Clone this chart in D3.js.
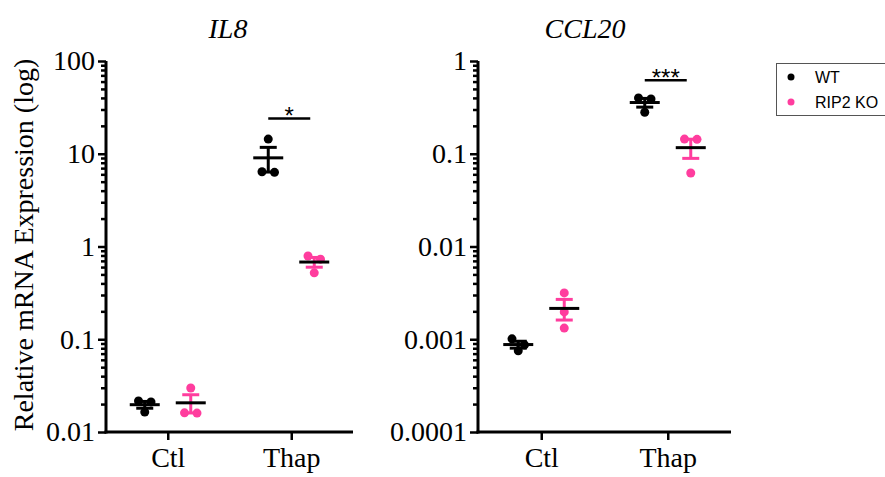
<!DOCTYPE html>
<html>
<head>
<meta charset="utf-8">
<script src="https://cdn.jsdelivr.net/npm/d3@7"></script>
<style>
  body { margin: 0; background: #fff; }
  text { font-family: "Liberation Serif", "Times New Roman", serif; }
</style>
</head>
<body>
<script>
// values
const genes = ["IL8", "CCL20"];
const conditions = ["Ctl", "Thap"];
const groups = ["WT", "RIP2 KO"];
const colors = ["#000000", "#ff3d9e"];

const il8WTCtl = [0.0164, 0.0216, 0.0211];
const il8KOCtl = [0.0298, 0.0160, 0.0161];
const il8WTThap = [14.4, 6.4, 6.3];
const il8KOThap = [0.79, 0.73, 0.52];

const ccl20WTCtl = [0.00101, 0.00075, 0.00087];
const ccl20KOCtl = [0.00316, 0.00197, 0.00132];
const ccl20WTThap = [0.40, 0.39, 0.28];
const ccl20KOThap = [0.144, 0.143, 0.062];

const il8Ticks = [0.01, 0.1, 1, 10, 100];
const ccl20Ticks = [0.0001, 0.001, 0.01, 0.1, 1];

const sigLabels = ["*", "***"];
const sigLevels = [24, 0.62];

const W = 885, H = 477;
const plotTop = 61, plotBottom = 432;
const r = 4.5;

const svg = d3.select("body").append("svg")
  .attr("width", W)
  .attr("height", H);

const panels = [
  { gene: genes[0], ticks: il8Ticks, data: [[il8WTCtl, il8KOCtl], [il8WTThap, il8KOThap]],
    sig: sigLabels[0], sigLevel: sigLevels[0], x0: 106, x1: 353, titleX: 228 },
  { gene: genes[1], ticks: ccl20Ticks, data: [[ccl20WTCtl, ccl20KOCtl], [ccl20WTThap, ccl20KOThap]],
    sig: sigLabels[1], sigLevel: sigLevels[1], x0: 478, x1: 731, titleX: 585 }
];

function minorTicks(ticks) {
  let out = [];
  for (let i = 0; i < ticks.length; i++) {
    out.push(ticks[i]);
    if (i < ticks.length - 1) {
      for (let k = 2; k <= 9; k++) out.push(ticks[i] * k);
    }
  }
  return out;
}

// spread points that sit on the same row, like a scatter dot plot
function spread(vals, y) {
  let pts = vals.map(v => ({ v: v, py: y(v) })).sort((a, b) => a.py - b.py);
  let rows = [];
  pts.forEach(p => {
    let row = rows[rows.length - 1];
    if (row && p.py - row[0].py < 2 * r) row.push(p);
    else rows.push([p]);
  });
  rows.forEach(row => {
    row.forEach((p, i) => { p.dx = (i - (row.length - 1) / 2) * 12.5; });
  });
  return pts;
}

panels.forEach(p => {
  const y = d3.scaleLog()
    .domain([p.ticks[0], p.ticks[p.ticks.length - 1]])
    .range([plotBottom, plotTop]);
  const x = d3.scalePoint()
    .domain(conditions)
    .range([p.x0, p.x1])
    .padding(0.5);
  const g = d3.scalePoint()
    .domain(groups)
    .range([-23, 23]);

  const majors = new Set(p.ticks);

  // y axis
  const yAxis = svg.append("g")
    .attr("transform", `translate(${p.x0},0)`)
    .call(d3.axisLeft(y)
      .tickValues(minorTicks(p.ticks))
      .tickSize(8)
      .tickSizeOuter(0)
      .tickPadding(3)
      .tickFormat(d => majors.has(d) ? String(d) : ""));
  yAxis.select(".domain").attr("stroke-width", 3).attr("d", `M0,${plotBottom + 1.5}V${plotTop}`);
  yAxis.selectAll(".tick line").attr("stroke-width", 2.5)
    .filter(d => !majors.has(d)).attr("x2", -5);
  yAxis.selectAll(".tick text")
    .attr("font-family", "Liberation Serif")
    .attr("font-size", 28)
    .attr("fill", "#000");

  // x axis
  const xAxis = svg.append("g")
    .attr("transform", `translate(0,${plotBottom})`)
    .call(d3.axisBottom(x)
      .tickSize(8)
      .tickSizeOuter(0)
      .tickPadding(7));
  xAxis.select(".domain").attr("stroke-width", 3).attr("d", `M${p.x0 - 1.5},0H${p.x1}`);
  xAxis.selectAll(".tick line").attr("stroke-width", 2.5);
  xAxis.selectAll(".tick text")
    .attr("font-family", "Liberation Serif")
    .attr("font-size", 28)
    .attr("fill", "#000");

  // title
  svg.append("text")
    .attr("x", p.titleX)
    .attr("y", 38)
    .attr("text-anchor", "middle")
    .attr("font-size", 28)
    .attr("font-style", "italic")
    .text(p.gene);

  // points, error bars, means
  p.data.forEach((pair, ci) => {
    pair.forEach((vals, gi) => {
      const cx = x(conditions[ci]) + g(groups[gi]);
      const col = colors[gi];
      const pts = spread(vals, y);

      svg.selectAll(null)
        .data(pts)
        .enter()
        .append("circle")
        .attr("cx", d => cx + d.dx)
        .attr("cy", d => d.py)
        .attr("r", r)
        .style("fill", col);

      const m = d3.mean(vals);
      const sem = d3.deviation(vals) / Math.sqrt(vals.length);
      const yHi = y(m + sem), yLo = y(m - sem);

      svg.append("line")
        .attr("x1", cx).attr("x2", cx)
        .attr("y1", yHi).attr("y2", yLo)
        .attr("stroke", col).attr("stroke-width", 3);
      [yHi, yLo].forEach(yy => {
        svg.append("line")
          .attr("x1", cx - 8.5).attr("x2", cx + 8.5)
          .attr("y1", yy).attr("y2", yy)
          .attr("stroke", col).attr("stroke-width", 3);
      });
      svg.append("line")
        .attr("x1", cx - 15).attr("x2", cx + 15)
        .attr("y1", y(m)).attr("y2", y(m))
        .attr("stroke", "#000").attr("stroke-width", 3);
    });
  });

  // significance bar over Thap
  const sx1 = x(conditions[1]) + g(groups[0]);
  const sx2 = x(conditions[1]) + g(groups[1]) - 4;
  const sy = y(p.sigLevel);
  svg.append("line")
    .attr("x1", sx1).attr("x2", sx2)
    .attr("y1", sy).attr("y2", sy)
    .attr("stroke", "#000").attr("stroke-width", 2.5);
  svg.append("text")
    .attr("x", (sx1 + sx2) / 2)
    .attr("y", sy + 6)
    .attr("text-anchor", "middle")
    .style("font-family", "Liberation Sans, Arial, sans-serif")
    .attr("font-size", 24)
    .text(p.sig);
});

// y axis title
svg.append("text")
  .attr("transform", "translate(33,245) rotate(-90)")
  .attr("text-anchor", "middle")
  .attr("font-size", 28)
  .text("Relative mRNA Expression (log)");

// legend
const legend = svg.append("g");
legend.append("rect")
  .attr("x", 776.5).attr("y", 63.5)
  .attr("width", 120).attr("height", 52)
  .attr("fill", "none")
  .attr("stroke", "#555")
  .attr("stroke-width", 1);
groups.forEach((name, i) => {
  legend.append("circle")
    .attr("cx", 791).attr("cy", 77 + i * 25)
    .attr("r", 3.5)
    .style("fill", colors[i]);
  legend.append("text")
    .attr("x", 815).attr("y", 83 + i * 25)
    .style("font-family", "Liberation Sans, Arial, sans-serif")
    .attr("font-size", 16)
    .text(name);
});
</script>
</body>
</html>
